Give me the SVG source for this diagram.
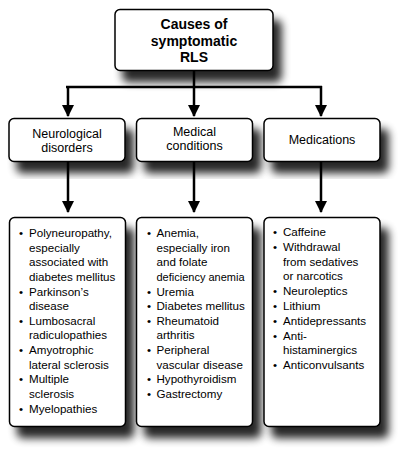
<svg xmlns="http://www.w3.org/2000/svg" width="409" height="455" viewBox="0 0 409 455">
<defs>
<filter id="sh" x="-20%" y="-20%" width="150%" height="160%">
<feGaussianBlur in="SourceAlpha" stdDeviation="4"/>
<feOffset dx="8" dy="11" result="b"/>
<feComponentTransfer><feFuncA type="linear" slope="0.85"/></feComponentTransfer>
<feMerge><feMergeNode/><feMergeNode in="SourceGraphic"/></feMerge>
</filter>
<marker id="ah" markerUnits="userSpaceOnUse" markerWidth="12" markerHeight="12" refX="11" refY="6" orient="auto">
<path d="M0,0 L12,6 L0,12 Z" fill="#000"/>
</marker>
<style>
.box{fill:#fff;stroke:#000;stroke-width:1.5;filter:url(#sh)}
.t{font-family:"Liberation Sans",Arial,sans-serif;fill:#000}
.title{font-size:14px;font-weight:bold;text-anchor:middle}
.hd{font-size:12.5px;text-anchor:middle}
.li{font-size:11.6px}
.ln{stroke:#000;stroke-width:2.5;fill:none}
</style>
</defs>
<rect width="409" height="455" fill="#fff"/>
<g id="connectors">
<path class="ln" d="M194,71 V87 M66,87 H322"/>
<path class="ln" d="M68,86 V116" marker-end="url(#ah)"/>
<path class="ln" d="M194,87 V116" marker-end="url(#ah)"/>
<path class="ln" d="M321,86 V116" marker-end="url(#ah)"/>
<path class="ln" d="M68,162 V212" marker-end="url(#ah)"/>
<path class="ln" d="M194,162 V212" marker-end="url(#ah)"/>
<path class="ln" d="M321,162 V212" marker-end="url(#ah)"/>
</g>
<g id="root">
<rect class="box" x="115" y="9.5" width="158" height="61" rx="5"/>
<text class="t title" x="194" y="29">Causes of</text>
<text class="t title" x="194" y="45.5">symptomatic</text>
<text class="t title" x="194" y="62">RLS</text>
</g>
<g id="neuro">
<rect class="box" x="9" y="118.5" width="116" height="43" rx="5"/>
<text class="t hd" x="67" y="137.8">Neurological</text>
<text class="t hd" x="67" y="151.8">disorders</text>
</g>
<g id="medical">
<rect class="box" x="136.5" y="118.5" width="116" height="43" rx="5"/>
<text class="t hd" x="194.5" y="136.2">Medical</text>
<text class="t hd" x="194.5" y="149.5">conditions</text>
</g>
<g id="medications">
<rect class="box" x="264" y="118.5" width="116" height="43" rx="5"/>
<text class="t hd" x="322" y="143.8">Medications</text>
</g>
<g id="neuro-list">
<rect class="box" x="9.5" y="217.5" width="116" height="209" rx="5"/>
<g class="t li">
<text x="19" y="237">•</text><text x="29" y="237">Polyneuropathy,</text>
<text x="29" y="251.6">especially</text>
<text x="29" y="266.3">associated with</text>
<text x="29" y="280.9">diabetes mellitus</text>
<text x="19" y="295.5">•</text><text x="29" y="295.5">Parkinson’s</text>
<text x="29" y="310.2">disease</text>
<text x="19" y="324.8">•</text><text x="29" y="324.8">Lumbosacral</text>
<text x="29" y="339.4">radiculopathies</text>
<text x="19" y="354">•</text><text x="29" y="354">Amyotrophic</text>
<text x="29" y="368.7">lateral sclerosis</text>
<text x="19" y="383.3">•</text><text x="29" y="383.3">Multiple</text>
<text x="29" y="397.9">sclerosis</text>
<text x="19" y="412.6">•</text><text x="29" y="412.6">Myelopathies</text>
</g>
</g>
<g id="medical-list">
<rect class="box" x="136.5" y="217.5" width="116" height="209" rx="5"/>
<g class="t li">
<text x="147" y="237">•</text><text x="156.5" y="237">Anemia,</text>
<text x="156.5" y="251.6">especially iron</text>
<text x="156.5" y="266.3">and folate</text>
<text x="156.5" y="280.9" textLength="88" lengthAdjust="spacingAndGlyphs">deficiency anemia</text>
<text x="147" y="295.5">•</text><text x="156.5" y="295.5">Uremia</text>
<text x="147" y="310.2">•</text><text x="156.5" y="310.2">Diabetes mellitus</text>
<text x="147" y="324.8">•</text><text x="156.5" y="324.8">Rheumatoid</text>
<text x="156.5" y="339.4">arthritis</text>
<text x="147" y="354">•</text><text x="156.5" y="354">Peripheral</text>
<text x="156.5" y="368.7">vascular disease</text>
<text x="147" y="383.3">•</text><text x="156.5" y="383.3">Hypothyroidism</text>
<text x="147" y="397.9">•</text><text x="156.5" y="397.9">Gastrectomy</text>
</g>
</g>
<g id="medications-list">
<rect class="box" x="264" y="217.5" width="116" height="209" rx="5"/>
<g class="t li">
<text x="273" y="236">•</text><text x="283" y="236">Caffeine</text>
<text x="273" y="250.8">•</text><text x="283" y="250.8">Withdrawal</text>
<text x="283" y="265.6">from sedatives</text>
<text x="283" y="280.4">or narcotics</text>
<text x="273" y="295.2">•</text><text x="283" y="295.2">Neuroleptics</text>
<text x="273" y="310">•</text><text x="283" y="310">Lithium</text>
<text x="273" y="324.8">•</text><text x="283" y="324.8">Antidepressants</text>
<text x="273" y="339.6">•</text><text x="283" y="339.6">Anti-</text>
<text x="283" y="354.4">histaminergics</text>
<text x="273" y="369.2">•</text><text x="283" y="369.2">Anticonvulsants</text>
</g>
</g>
</svg>
